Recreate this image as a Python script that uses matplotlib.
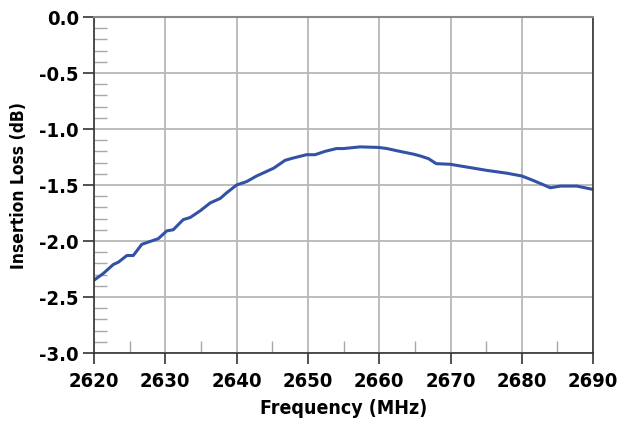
import matplotlib
matplotlib.use("Agg")
import matplotlib.pyplot as plt
from matplotlib.ticker import MultipleLocator, FormatStrFormatter
from matplotlib import font_manager as fm

freq = [2620.0, 2621.3, 2622.7, 2623.4, 2624.6, 2625.5, 2626.7, 2627.6, 2629.0,
        2630.2, 2631.1, 2632.5, 2633.5, 2634.9, 2636.3, 2637.7, 2638.6, 2640.0,
        2641.4, 2642.8, 2644.0, 2645.2, 2646.8, 2647.9, 2649.8, 2651.0, 2652.4,
        2654.0, 2655.0, 2657.3, 2659.9, 2661.1, 2662.5, 2664.8, 2665.7, 2666.9,
        2668.0, 2669.9, 2671.8, 2675.1, 2677.9, 2680.0, 2681.6, 2684.0, 2685.4,
        2687.7, 2690.0]
loss = [-2.35, -2.29, -2.21, -2.19, -2.13, -2.13, -2.03, -2.01, -1.98,
        -1.91, -1.90, -1.81, -1.79, -1.73, -1.66, -1.62, -1.57, -1.50,
        -1.47, -1.42, -1.385, -1.35, -1.28, -1.26, -1.23, -1.23, -1.20,
        -1.175, -1.175, -1.16, -1.165, -1.175, -1.195, -1.225, -1.24, -1.265,
        -1.31, -1.315, -1.335, -1.37, -1.395, -1.42, -1.46, -1.525, -1.51,
        -1.51, -1.54]

xticks = [2620, 2630, 2640, 2650, 2660, 2670, 2680, 2690]
yticks = [0.0, -0.5, -1.0, -1.5, -2.0, -2.5, -3.0]

# pick a condensed bold font if one is installed
cands = []
for f in fm.fontManager.ttflist:
    st = str(f.stretch)
    if ('ondensed' in f.name or 'Narrow' in f.name or 'condensed' in st) and f.weight in (700, 'bold'):
        cands.append(f)
fprop = None
for pref in ['Liberation Sans Narrow', 'DejaVu Sans Condensed', 'DejaVu Sans']:
    for f in cands:
        if f.name.startswith(pref):
            fprop = fm.FontProperties(fname=f.fname)
            break
    if fprop is not None:
        break
if fprop is None and cands:
    fprop = fm.FontProperties(fname=cands[0].fname)
if fprop is None:
    fprop = fm.FontProperties(family='DejaVu Sans', weight='bold')

def fp(size):
    p = fprop.copy()
    p.set_size(size)
    return p

fig = plt.figure(figsize=(6.27, 4.27), dpi=100)
ax = fig.add_axes([0.15, 0.171, 0.796, 0.787])

ax.plot(freq, loss, color='#3352a6', linewidth=2.2, solid_capstyle='round')

ax.set_xlim(2620, 2690)
ax.set_ylim(-3.0, 0.0)
ax.set_xticks(xticks)
ax.set_yticks(yticks)
ax.yaxis.set_major_formatter(FormatStrFormatter('%.1f'))
ax.xaxis.set_minor_locator(MultipleLocator(5))
ax.yaxis.set_minor_locator(MultipleLocator(0.1))

ax.grid(True, which='major', color='#b8b8b8', linewidth=1.3)
ax.set_axisbelow(True)

ax.tick_params(which='major', direction='out', length=8, width=1.2, color='#333333', pad=3)
ax.tick_params(axis='x', which='major', pad=5)
ax.tick_params(which='minor', direction='in', length=9, width=1.0, color='#a8a8a8')
for lab in ax.get_xticklabels() + ax.get_yticklabels():
    lab.set_fontproperties(fp(14.5))

for s in ['left', 'bottom', 'right']:
    ax.spines[s].set_color('#333333')
    ax.spines[s].set_linewidth(1.2)
ax.spines['top'].set_color('#888888')
ax.spines['top'].set_linewidth(1.5)

ax.set_xlabel('Frequency (MHz)', fontproperties=fp(14), labelpad=6)
ax.set_ylabel('Insertion Loss (dB)', fontproperties=fp(12.5), labelpad=8)

fig.savefig('out.png', dpi=100)
